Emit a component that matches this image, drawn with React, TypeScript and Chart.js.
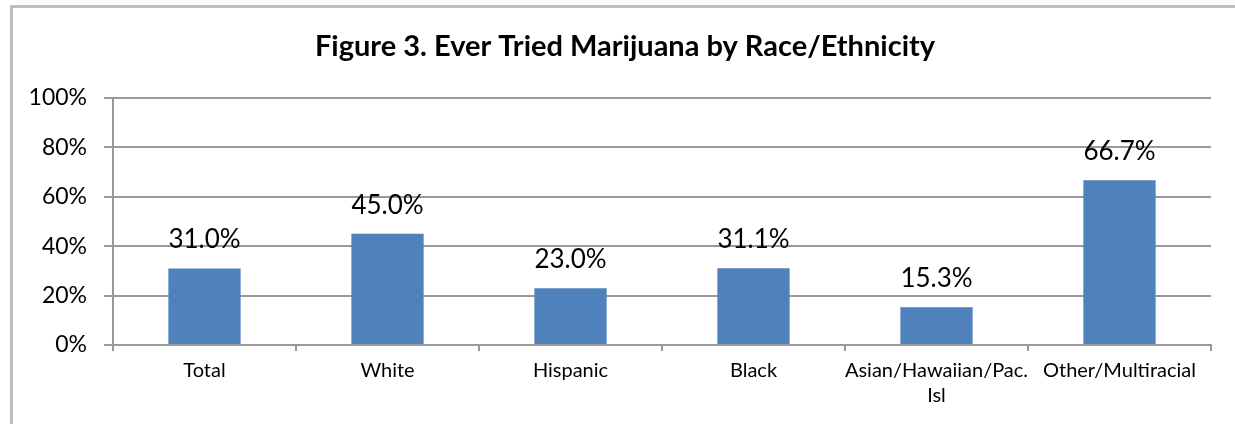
import React, { useEffect, useRef } from "react";
import { Chart, registerables } from "chart.js";

Chart.register(...registerables);

const chartTitle = "Figure 3. Ever Tried Marijuana by Race/Ethnicity";
const categories: (string | string[])[] = [
  "Total",
  "White",
  "Hispanic",
  "Black",
  ["Asian/Hawaiian/Pac.", "Isl"],
  "Other/Multiracial",
];
const values = [31.0, 45.0, 23.0, 31.1, 15.3, 66.7];
const yMin = 0;
const yMax = 100;
const yStep = 20;

const FONT = "Lato, 'Open Sans', sans-serif";
const BAR_COLOR = "#4F81BD";
const GRID_COLOR = "#999999";

const framePlugin = {
  id: "frame",
  beforeDraw(chart: any) {
    const ctx = chart.ctx;
    ctx.save();
    ctx.fillStyle = "#ffffff";
    ctx.fillRect(0, 0, chart.width, chart.height);
    ctx.strokeStyle = "#bfbfbf";
    ctx.lineWidth = 3;
    ctx.strokeRect(11.5, 6.5, chart.width + 50, chart.height + 50);
    ctx.restore();
  },
};

const titlePlugin = {
  id: "customTitle",
  afterDraw(chart: any) {
    const ctx = chart.ctx;
    ctx.save();
    ctx.font = `bold 29px ${FONT}`;
    ctx.fillStyle = "#000000";
    ctx.textAlign = "center";
    ctx.textBaseline = "alphabetic";
    ctx.fillText(chartTitle, 625, 56);
    ctx.restore();
  },
};

const labelPlugin = {
  id: "barLabels",
  afterDatasetsDraw(chart: any) {
    const ctx = chart.ctx;
    const meta = chart.getDatasetMeta(0);
    ctx.save();
    ctx.font = `26px ${FONT}`;
    ctx.fillStyle = "#000000";
    ctx.textAlign = "center";
    ctx.textBaseline = "alphabetic";
    meta.data.forEach((bar: any, i: number) => {
      const v = chart.data.datasets[0].data[i] as number;
      ctx.fillText(v.toFixed(1) + "%", bar.x, bar.y - 20);
    });
    ctx.restore();
  },
};

export default function App() {
  const ref = useRef<HTMLCanvasElement | null>(null);

  useEffect(() => {
    if (!ref.current) return;
    const chart = new Chart(ref.current, {
      type: "bar",
      data: {
        labels: categories,
        datasets: [
          {
            data: values,
            backgroundColor: BAR_COLOR,
            borderWidth: 0,
            categoryPercentage: 1,
            barPercentage: 0.395,
          },
        ],
      },
      options: {
        responsive: false,
        animation: false,
        events: [],
        layout: { padding: { left: 0, right: 24, top: 98, bottom: 0 } },
        plugins: {
          legend: { display: false },
          tooltip: { enabled: false },
          title: { display: false },
        },
        scales: {
          x: {
            grid: {
              offset: true,
              drawOnChartArea: false,
              drawTicks: true,
              tickLength: 6,
              color: GRID_COLOR,
              lineWidth: 2,
            },
            border: { color: GRID_COLOR, width: 2 },
            ticks: {
              color: "#000000",
              font: { family: FONT, size: 20, lineHeight: 1.25 },
              padding: 7,
              maxRotation: 0,
              autoSkip: false,
            },
            afterFit(scale: any) {
              scale.height = 79;
            },
          },
          y: {
            min: yMin,
            max: yMax,
            grid: {
              color: GRID_COLOR,
              tickLength: 9,
              lineWidth: 2,
            },
            border: { color: GRID_COLOR, width: 2 },
            ticks: {
              stepSize: yStep,
              color: "#000000",
              font: { family: FONT, size: 23 },
              padding: 17,
              callback: (v: any) => v + "%",
            },
            afterFit(scale: any) {
              scale.width = 113;
            },
          },
        },
      },
      plugins: [framePlugin, labelPlugin, titlePlugin],
    });
    return () => chart.destroy();
  }, []);

  return (
    <div style={{ position: "fixed", left: 0, top: 0, width: 1235, height: 424, background: "#fff" }}>
      <canvas ref={ref} width={1235} height={424} style={{ display: "block" }} />
    </div>
  );
}
